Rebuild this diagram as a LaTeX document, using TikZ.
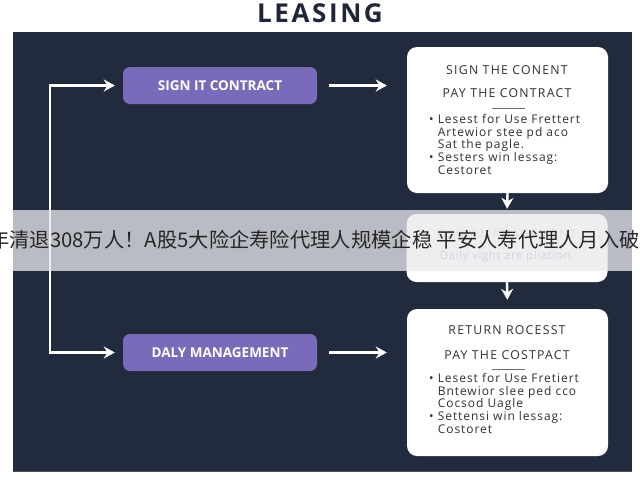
\documentclass[tikz,border=0pt]{standalone}
\usepackage{fontspec}
\setmainfont{Open Sans}
\newfontfamily\cjk{Noto Sans CJK SC}
\usepackage{xcolor}
\usetikzlibrary{arrows.meta}
\definecolor{panelbg}{HTML}{222A3D}
\definecolor{leasepurple}{HTML}{7A6BBA}
\definecolor{boxtext}{HTML}{2E3038}
\definecolor{bannergray}{HTML}{E9E9EE}
\tikzset{
  actbox/.style={fill=leasepurple, rounded corners=7pt, minimum width=194pt, minimum height=37pt,
    text=white, font=\fontsize{13.5}{15}\selectfont\bfseries},
  infobox/.style={fill=white, rounded corners=10pt, minimum width=201pt},
  headtxt/.style={text=boxtext, font=\fontsize{12.3}{14}\selectfont\addfontfeature{LetterSpace=10}, inner sep=0pt},
  itemtxt/.style={text=boxtext, align=left, anchor=north west, inner sep=0pt,
    font=\fontsize{12}{12.8}\selectfont\addfontfeature{LetterSpace=8}},
  tip/.tip={Stealth[length=11pt,width=12pt]},
  flow/.style={draw=white, line width=2.4pt, -tip},
}
\begin{document}
\begin{tikzpicture}[x=1pt, y=-1pt]
    \useasboundingbox[fill=white] (0,0) rectangle (640,480);
    % title and panel
    \node[font=\fontsize{26}{28}\selectfont\bfseries\addfontfeature{LetterSpace=10}, text=panelbg!90!black] (title) at (320,13) {LEASING};
    \fill[panelbg] (13,32) rectangle (632,472);
    \draw[black!70, line width=1pt] (13,471.5) -- (632,471.5);
    % steps
    \node[actbox] (signc) at (220,85.5) {SIGN IT CONTRACT};
    \node[actbox] (dailym) at (220,352.5) {DALY MANAGEMENT};
    \node[infobox, minimum height=146pt] (conent) at (507.5,120) {};
    \node[infobox, minimum height=68pt] (midbox) at (507,248) {};
    \node[infobox, minimum height=147pt] (retbox) at (507.5,382.5) {};
    % top box
    \node[headtxt] (conhead) at (507,70) {SIGN THE CONENT};
    \node[headtxt] (conpay) at (507,93) {PAY THE CONTRACT};
    \draw[boxtext!70, line width=0.8pt] (492,108) -- (525,108);
    \node[itemtxt] (conlist) at (429,114) {\textbullet\ Lesest for Use Frettert\\
      \phantom{\textbullet\ }Artewior stee pd aco\\
      \phantom{\textbullet\ }Sat the pagle.\\
      \textbullet\ Sesters win lessag:\\
      \phantom{\textbullet\ }Cestoret};
    % middle box
    \node[headtxt, text=black!25] (midhead) at (507,234) {DAILY MANAGEMENT};
    \node[text=black!40, font=\fontsize{11.5}{13}\selectfont\addfontfeature{LetterSpace=5}] (midline) at (507,257) {Daily vight are pliation.};
    % bottom box
    \node[headtxt] (rethead) at (507,330) {RETURN ROCESST};
    \node[headtxt] (retpay) at (507,355) {PAY THE COSTPACT};
    \draw[boxtext!70, line width=0.8pt] (492,369) -- (525,369);
    \node[itemtxt] (retlist) at (429,373) {\textbullet\ Lesest for Use Fretiert\\
      \phantom{\textbullet\ }Bntewior slee ped cco\\
      \phantom{\textbullet\ }Cocsod Uagle\\
      \textbullet\ Settensi win lessag:\\
      \phantom{\textbullet\ }Costoret};
    % connectors
    \coordinate (railtop) at (50,85.5);
    \draw[flow, tip-tip, line join=miter, shorten <=8pt, shorten >=8pt]
      (dailym.west) -| (railtop) -- (signc.west);
    \draw[flow, shorten <=12pt, shorten >=20pt] (signc.east) -- (signc.east -| conent.west);
    \draw[flow, shorten <=12pt, shorten >=20pt] (dailym.east) -- (dailym.east -| retbox.west);
    \draw[flow, shorten >=5pt] (conent.south) -- (midbox.north);
    \draw[flow, shorten >=9pt] (midbox.south) -- (retbox.north);
    % caption band
    \fill[bannergray, opacity=0.77] (13,210) rectangle (632,271);
    \node[anchor=west, inner sep=0pt, text=black!85, font=\cjk\fontsize{20.3}{24}\selectfont] (band) at (-11,240) {年清退308万人！A股5大险企寿险代理人规模企稳 平安人寿代理人月入破};
\end{tikzpicture}
\end{document}
